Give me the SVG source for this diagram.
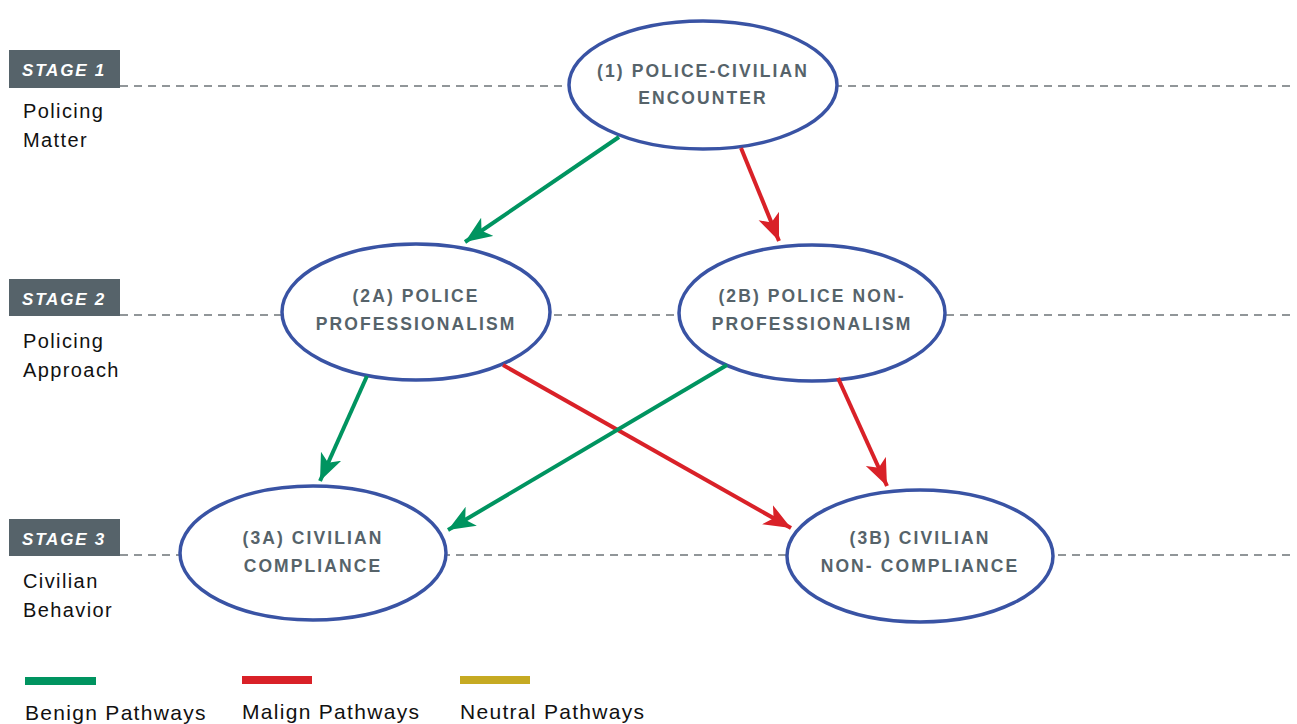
<svg xmlns="http://www.w3.org/2000/svg" width="1297" height="724" viewBox="0 0 1297 724">
<style>
.dash{stroke:#6d7478;stroke-width:1.6;stroke-dasharray:8 6;fill:none}
.box{fill:#56636a}
.stage{font-family:"Liberation Sans",Arial,sans-serif;font-weight:bold;font-style:italic;font-size:17px;fill:#fff;letter-spacing:1.8px}
.side{font-family:"Liberation Sans",Arial,sans-serif;font-size:20px;fill:#111;letter-spacing:1.4px}
.node ellipse{fill:#fff;stroke:#3953a4;stroke-width:3.5}
.node text{font-family:"Liberation Sans",Arial,sans-serif;font-weight:bold;font-size:17.5px;fill:#56636a;letter-spacing:2.1px;text-anchor:middle}
.g{stroke:#009460;stroke-width:4;fill:none}
.r{stroke:#d92128;stroke-width:4;fill:none}
.leg{font-family:"Liberation Sans",Arial,sans-serif;font-size:21px;fill:#111;letter-spacing:1.3px}
</style>
<defs>
<marker id="ag" markerUnits="userSpaceOnUse" markerWidth="30" markerHeight="24" refX="27" refY="11" orient="auto"><path d="M0,0 L27,11 L0,22 L7,11 Z" fill="#009460"/></marker>
<marker id="ar" markerUnits="userSpaceOnUse" markerWidth="30" markerHeight="24" refX="27" refY="11" orient="auto"><path d="M0,0 L27,11 L0,22 L7,11 Z" fill="#d92128"/></marker>
</defs>
<g id="stages">
<line class="dash" x1="120" y1="86" x2="1292" y2="86"/>
<line class="dash" x1="120" y1="315" x2="1292" y2="315"/>
<line class="dash" x1="120" y1="555" x2="1292" y2="555"/>
<rect class="box" x="9" y="50" width="111" height="38"/>
<text class="stage" x="22" y="76">STAGE 1</text>
<rect class="box" x="9" y="279" width="111" height="37"/>
<text class="stage" x="22" y="305">STAGE 2</text>
<rect class="box" x="9" y="519" width="111" height="37"/>
<text class="stage" x="22" y="545">STAGE 3</text>
<text class="side" x="23" y="118">Policing</text>
<text class="side" x="23" y="147">Matter</text>
<text class="side" x="23" y="348">Policing</text>
<text class="side" x="23" y="377">Approach</text>
<text class="side" x="23" y="588">Civilian</text>
<text class="side" x="23" y="617">Behavior</text>
</g>
<g id="n1" class="node"><ellipse cx="703" cy="85" rx="134" ry="64"/><text x="703" y="77">(1) POLICE-CIVILIAN</text><text x="703" y="104">ENCOUNTER</text></g>
<g id="n2a" class="node"><ellipse cx="416" cy="312" rx="134" ry="68"/><text x="416" y="302">(2A) POLICE</text><text x="416" y="330">PROFESSIONALISM</text></g>
<g id="n2b" class="node"><ellipse cx="812" cy="313" rx="133" ry="68"/><text x="812" y="302">(2B) POLICE NON-</text><text x="812" y="330">PROFESSIONALISM</text></g>
<g id="n3a" class="node"><ellipse cx="313" cy="553" rx="133" ry="67"/><text x="313" y="544">(3A) CIVILIAN</text><text x="313" y="572">COMPLIANCE</text></g>
<g id="n3b" class="node"><ellipse cx="920" cy="556" rx="133" ry="66"/><text x="920" y="544">(3B) CIVILIAN</text><text x="920" y="572">NON- COMPLIANCE</text></g>
<g id="connectors">
<line class="g" x1="619" y1="137" x2="465" y2="242" marker-end="url(#ag)"/>
<line class="r" x1="741" y1="148" x2="779" y2="241" marker-end="url(#ar)"/>
<line class="g" x1="367" y1="376" x2="320" y2="481" marker-end="url(#ag)"/>
<line class="r" x1="503" y1="365" x2="791" y2="528" marker-end="url(#ar)"/>
<line class="g" x1="727" y1="365" x2="448" y2="530" marker-end="url(#ag)"/>
<line class="r" x1="838" y1="378" x2="887" y2="486" marker-end="url(#ar)"/>
</g>
<g id="legend">
<rect x="25" y="677" width="71" height="8" fill="#009460"/>
<rect x="242" y="676" width="70" height="8" fill="#d92128"/>
<rect x="460" y="676" width="70" height="8" fill="#c6aa22"/>
<text class="leg" x="25" y="720">Benign Pathways</text>
<text class="leg" x="242" y="719">Malign Pathways</text>
<text class="leg" x="460" y="719">Neutral Pathways</text>
</g>
</svg>
